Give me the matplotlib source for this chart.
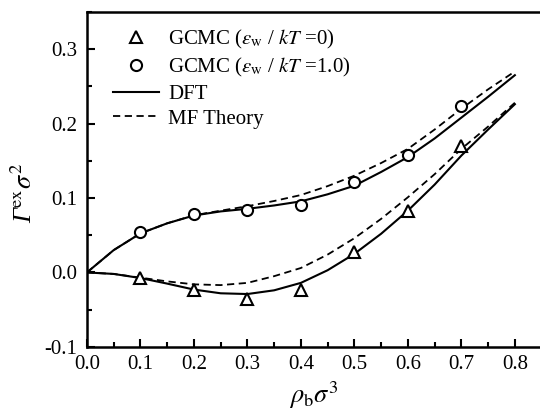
import numpy as np
import matplotlib
matplotlib.use("Agg")
import matplotlib.pyplot as plt
from matplotlib.ticker import MultipleLocator

plt.rcParams['font.family'] = ['Liberation Serif', 'DejaVu Serif']
plt.rcParams['mathtext.fontset'] = 'stix'

# GCMC simulation points
x_sim = [0.1, 0.2, 0.3, 0.4, 0.5, 0.6, 0.7]
gcmc_eps0 = [-0.008, -0.023, -0.035, -0.024, 0.027, 0.082, 0.170]
gcmc_eps1 = [0.055, 0.079, 0.084, 0.090, 0.121, 0.158, 0.223]

# theory curves
x_line = [0.0, 0.05, 0.1, 0.15, 0.2, 0.25, 0.3, 0.35, 0.4, 0.45, 0.5,
          0.55, 0.6, 0.65, 0.7, 0.75, 0.8]
dft_eps1 = [0.0, 0.030, 0.0525, 0.066, 0.0765, 0.082, 0.0855, 0.090, 0.0955,
            0.105, 0.1165, 0.135, 0.155, 0.180, 0.208, 0.236, 0.265]
mf_eps1 = [0.0, 0.030, 0.0525, 0.066, 0.0768, 0.083, 0.089, 0.096, 0.104,
           0.116, 0.130, 0.147, 0.166, 0.192, 0.220, 0.246, 0.270]
dft_eps0 = [0.0, -0.002, -0.0075, -0.015, -0.023, -0.028, -0.029, -0.024,
            -0.014, 0.003, 0.025, 0.052, 0.083, 0.118, 0.157, 0.192, 0.226]
mf_eps0 = [0.0, -0.002, -0.007, -0.012, -0.016, -0.017, -0.014, -0.005,
           0.006, 0.024, 0.046, 0.072, 0.101, 0.132, 0.166, 0.196, 0.228]

fig = plt.figure(figsize=(5.4, 4.11), dpi=100)
ax = fig.add_axes([0.161, 0.156, 0.839, 0.815])

dash = (0, (4, 2.5))
ax.plot(x_line, dft_eps1, color='black', lw=1.5)
ax.plot(x_line, mf_eps1, color='black', lw=1.3, linestyle=dash)
ax.plot(x_line, dft_eps0, color='black', lw=1.5)
ax.plot(x_line, mf_eps0, color='black', lw=1.3, linestyle=dash)

h_tri, = ax.plot(x_sim, gcmc_eps0, linestyle='none', marker='^', ms=8.5,
                 mfc='white', mec='black', mew=1.5)
h_circ, = ax.plot(x_sim, gcmc_eps1, linestyle='none', marker='o', ms=8,
                  mfc='white', mec='black', mew=1.5)
h_dft, = ax.plot([], [], color='black', lw=1.5)
h_mf, = ax.plot([], [], color='black', lw=1.3, linestyle=dash)

leg = ax.legend([h_tri, h_circ, h_dft, h_mf],
                [r'GCMC ($\varepsilon_{\rm w}$ / $kT$ =0)',
                 r'GCMC ($\varepsilon_{\rm w}$ / $kT$ =1.0)',
                 'DFT', 'MF Theory'],
                loc='upper left', bbox_to_anchor=(0.03, 0.99),
                frameon=False, fontsize=15, handlelength=2.2,
                handletextpad=0.45, labelspacing=0.25, borderaxespad=0.2)

ax.set_xlim(0, 0.847)
ax.set_ylim(-0.1, 0.35)
ax.xaxis.set_major_locator(MultipleLocator(0.1))
ax.xaxis.set_minor_locator(MultipleLocator(0.05))
ax.yaxis.set_major_locator(MultipleLocator(0.1))
ax.yaxis.set_minor_locator(MultipleLocator(0.05))
ax.tick_params(which='both', direction='in', width=1.5, labelsize=15,
               top=False, right=False)
ax.tick_params(which='major', length=6)
ax.tick_params(which='minor', length=3.5)
ax.tick_params(axis='x', pad=5.5)
ax.tick_params(axis='y', pad=7)
for s in ax.spines.values():
    s.set_linewidth(1.8)
ax.spines['right'].set_visible(False)

ax.set_xticks([0.0, 0.1, 0.2, 0.3, 0.4, 0.5, 0.6, 0.7, 0.8])
ax.set_xticklabels(['0.0', '0.1', '0.2', '0.3', '0.4', '0.5', '0.6', '0.7', '0.8'])
ax.set_yticks([-0.1, 0.0, 0.1, 0.2, 0.3])
ax.set_yticklabels(['-0.1', '0.0', '0.1', '0.2', '0.3'])

ax.set_xlabel(r'$\rho_{\rm b}\sigma^{3}$', fontsize=19, labelpad=4)
# italic capital Gamma from the text font, the rest as mathtext
ax.set_ylabel('\u0393' + r'$^{\rm ex}\sigma^{2}$', fontsize=19,
              fontstyle='italic')
ax.yaxis.set_label_coords(-0.11, 0.46)

fig.savefig('out.png', dpi=100)
